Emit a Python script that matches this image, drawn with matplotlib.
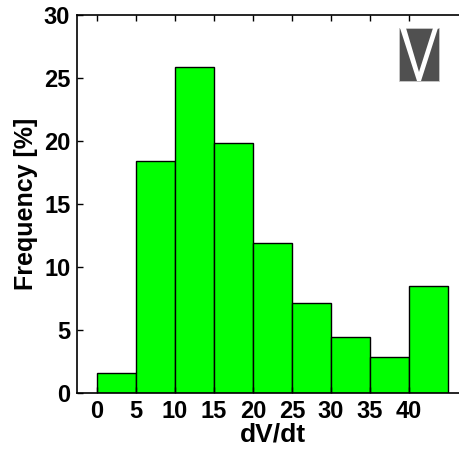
import matplotlib
matplotlib.use("Agg")
import matplotlib.pyplot as plt
from matplotlib.patches import Rectangle, Polygon

bin_edges = [0, 5, 10, 15, 20, 25, 30, 35, 40, 45]
freq_pct = [1.6, 18.4, 25.85, 19.8, 11.9, 7.15, 4.4, 2.8, 8.45]
xticks = [0, 5, 10, 15, 20, 25, 30, 35, 40]
yticks = [0, 5, 10, 15, 20, 25, 30]

plt.rcParams['font.family'] = ['Liberation Sans', 'DejaVu Sans']
plt.rcParams['font.weight'] = 'bold'

fig = plt.figure(figsize=(4.6, 4.49), dpi=100)
ax = fig.add_axes([77.2/460, 56.3/449, 390.5/460, 377.7/449])

lefts = bin_edges[:-1]
widths = [b - a for a, b in zip(bin_edges[:-1], bin_edges[1:])]
ax.bar(lefts, freq_pct, width=widths, align='edge', color='#00ff00',
       edgecolor='black', linewidth=1.0, zorder=1)

ax.set_xlim(-2.5, 47.5)
ax.set_ylim(0, 30)
ax.set_xticks(xticks)
ax.set_yticks(yticks)
ax.tick_params(direction='in', length=4, width=1, top=True, right=False,
               labelsize=17, pad=5)
for lab in ax.get_xticklabels() + ax.get_yticklabels():
    lab.set_fontweight('bold')
ax.spines['right'].set_visible(False)
for s in ['left', 'bottom', 'top']:
    ax.spines[s].set_linewidth(1.2)

ax.set_xlabel('dV/dt', fontsize=19, fontweight='bold', labelpad=0)
ax.set_ylabel('Frequency [%]', fontsize=18, fontweight='bold', labelpad=4)

# title, mostly cut off at the top of the picture
fig.text(246/460, 1 + 5/449, 'Frequency', fontsize=14, fontweight='bold',
         ha='center', va='baseline')

# logo in the upper-right corner
W, H = 460.0, 449.0
def fx(px):
    return px / W
def fy(py):
    return 1 - py / H
fig.patches.append(Rectangle((fx(399), fy(81)), fx(439) - fx(399), fy(28) - fy(81),
                             transform=fig.transFigure, facecolor='#505050',
                             edgecolor='#c8c8c8', linewidth=0.6, zorder=5))
v_pts = [(400, 28), (406, 28), (419, 72), (433, 28), (438, 28), (421, 81), (417, 81)]
fig.patches.append(Polygon([(fx(a), fy(b)) for a, b in v_pts], closed=True,
                           transform=fig.transFigure, facecolor='white',
                           edgecolor='none', zorder=6))

fig.savefig('out.png', dpi=100)
